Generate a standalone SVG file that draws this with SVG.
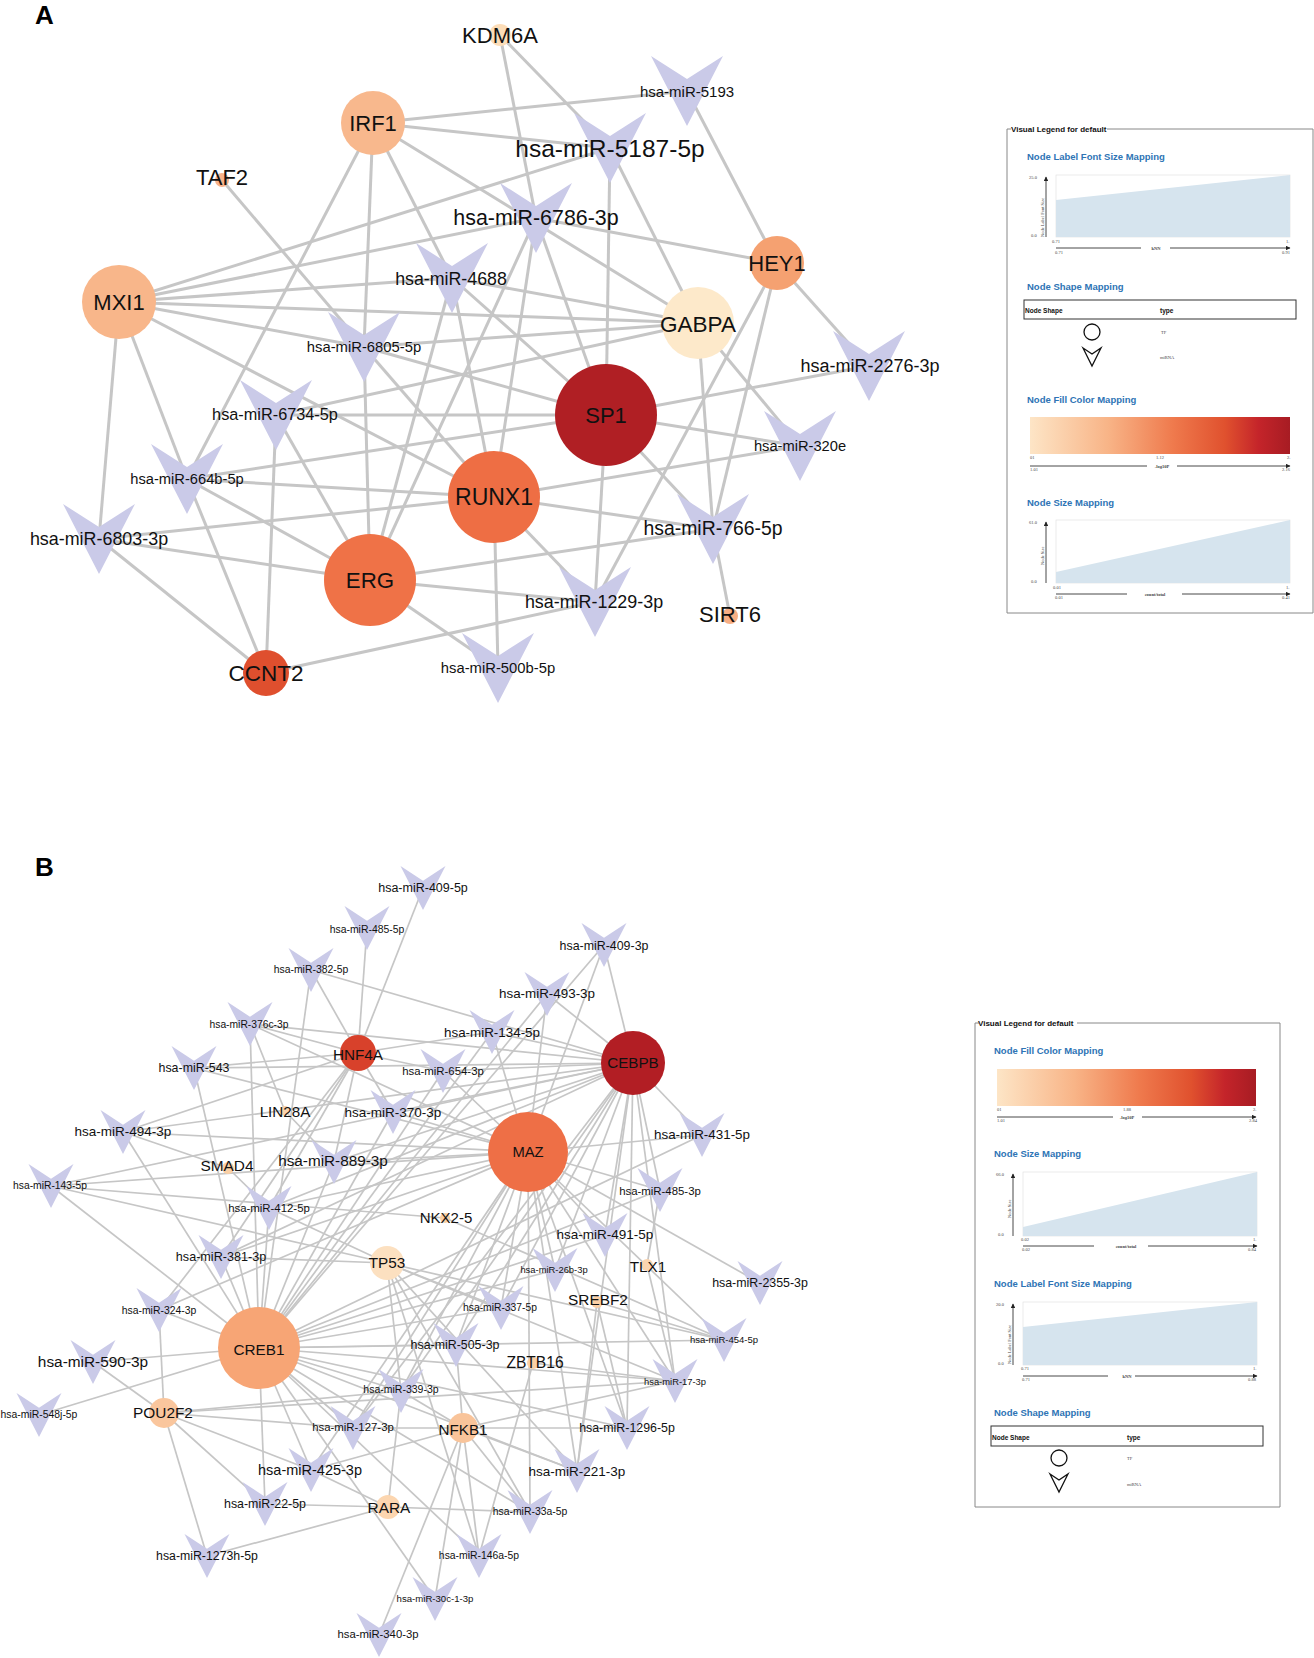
<svg xmlns="http://www.w3.org/2000/svg" xmlns:xlink="http://www.w3.org/1999/xlink" width="1314" height="1658" viewBox="0 0 1314 1658">
<style>
.ea path{stroke:#C6C6C6;stroke-width:3;fill:none}
.eb path{stroke:#C6C6C6;stroke-width:1.7;fill:none}
.mi{fill:#CACAE8}
text{font-family:"Liberation Sans",Arial,Helvetica,sans-serif;fill:#111}
.c{text-anchor:middle}
.pl{font-weight:bold;font-size:26px;fill:#000}
.lt{font-weight:bold;font-size:8px;fill:#111}
.lh{font-weight:bold;font-size:9.5px;fill:#2E74B5}
.tiny{font-family:"Liberation Serif","Times New Roman",serif;font-size:4.5px;fill:#444}
.ax{stroke:#333;stroke-width:0.9;fill:none}
.chart{fill:#fff;stroke:#ddd;stroke-width:0.6}
.area{fill:#D6E4EE}
.box{fill:none;stroke:#888;stroke-width:1}
</style>
<defs>
<polygon id="vA" points="-36,-35 0,-12 36,-35 0,35"/>
<polygon id="vB" points="-22.5,-22 0,-7.3 22.5,-22 0,22"/>
<linearGradient id="heat" x1="0" y1="0" x2="1" y2="0">
<stop offset="0" stop-color="#FDE5C6"/>
<stop offset="0.3" stop-color="#F8B487"/>
<stop offset="0.55" stop-color="#EF7A4D"/>
<stop offset="0.75" stop-color="#E0512E"/>
<stop offset="0.88" stop-color="#C4242A"/>
<stop offset="1" stop-color="#A71C23"/>
</linearGradient>
<marker id="arr" viewBox="0 0 10 10" refX="9" refY="5" markerWidth="6" markerHeight="5" orient="auto"><path d="M0,0 L10,5 L0,10 z" fill="#222"/></marker>
</defs>
<rect width="1314" height="1658" fill="#fff"/>
<text class="pl" x="35" y="24">A</text>
<text class="pl" x="35" y="876">B</text>

<g id="edges-A" class="ea">
<path d="M500,35L536,218"/><path d="M500,35L610,148"/>
<path d="M373,123L687,91"/><path d="M373,123L610,148"/><path d="M373,123L698,323"/><path d="M373,123L452,278"/><path d="M373,123L364,347"/><path d="M373,123L187,479"/>
<path d="M222,180L364,347"/>
<path d="M119,302L610,148"/><path d="M119,302L536,218"/><path d="M119,302L452,278"/><path d="M119,302L698,323"/><path d="M119,302L364,347"/><path d="M119,302L187,479"/><path d="M119,302L99,539"/><path d="M119,302L494,497"/>
<path d="M777,263L687,91"/><path d="M777,263L536,218"/><path d="M777,263L869,366"/><path d="M777,263L713,529"/><path d="M777,263L595,602"/>
<path d="M698,323L610,148"/><path d="M698,323L452,278"/><path d="M698,323L364,347"/><path d="M698,323L276,415"/><path d="M698,323L800,446"/><path d="M698,323L713,529"/>
<path d="M606,415L610,148"/><path d="M606,415L536,218"/><path d="M606,415L452,278"/><path d="M606,415L276,415"/><path d="M606,415L187,479"/><path d="M606,415L869,366"/><path d="M606,415L800,446"/><path d="M606,415L713,529"/><path d="M606,415L595,602"/><path d="M606,415L364,347"/>
<path d="M494,497L536,218"/><path d="M494,497L452,278"/><path d="M494,497L364,347"/><path d="M494,497L187,479"/><path d="M494,497L99,539"/><path d="M494,497L800,446"/><path d="M494,497L713,529"/><path d="M494,497L595,602"/><path d="M494,497L498,668"/>
<path d="M370,580L536,218"/><path d="M370,580L452,278"/><path d="M370,580L364,347"/><path d="M370,580L276,415"/><path d="M370,580L187,479"/><path d="M370,580L99,539"/><path d="M370,580L713,529"/><path d="M370,580L595,602"/><path d="M370,580L498,668"/>
<path d="M266,673L99,539"/><path d="M266,673L187,479"/><path d="M266,673L276,415"/><path d="M266,673L595,602"/>
<path d="M730,616L713,529"/>
</g>

<g id="nodes-A">
<g id="n-hsa-miR-5193"><use xlink:href="#vA" class="mi" x="687" y="91"/><text class="c" x="687" y="97" font-size="15">hsa-miR-5193</text></g>
<g id="n-hsa-miR-5187-5p"><use xlink:href="#vA" class="mi" x="610" y="148"/><text class="c" x="610" y="157" font-size="24.5">hsa-miR-5187-5p</text></g>
<g id="n-hsa-miR-6786-3p"><use xlink:href="#vA" class="mi" x="536" y="218"/><text class="c" x="536" y="225" font-size="21.4">hsa-miR-6786-3p</text></g>
<g id="n-hsa-miR-4688"><use xlink:href="#vA" class="mi" x="452" y="278"/><text class="c" x="451" y="285" font-size="17.8">hsa-miR-4688</text></g>
<g id="n-hsa-miR-6805-5p"><use xlink:href="#vA" class="mi" x="364" y="347"/><text class="c" x="364" y="352" font-size="14.8">hsa-miR-6805-5p</text></g>
<g id="n-hsa-miR-2276-3p"><use xlink:href="#vA" class="mi" x="869" y="366"/><text class="c" x="870" y="372" font-size="18">hsa-miR-2276-3p</text></g>
<g id="n-hsa-miR-6734-5p"><use xlink:href="#vA" class="mi" x="276" y="415"/><text class="c" x="275" y="420" font-size="16.3">hsa-miR-6734-5p</text></g>
<g id="n-hsa-miR-320e"><use xlink:href="#vA" class="mi" x="800" y="446"/><text class="c" x="800" y="451" font-size="14.7">hsa-miR-320e</text></g>
<g id="n-hsa-miR-664b-5p"><use xlink:href="#vA" class="mi" x="187" y="479"/><text class="c" x="187" y="484" font-size="14.7">hsa-miR-664b-5p</text></g>
<g id="n-hsa-miR-6803-3p"><use xlink:href="#vA" class="mi" x="99" y="539"/><text class="c" x="99" y="545" font-size="17.9">hsa-miR-6803-3p</text></g>
<g id="n-hsa-miR-766-5p"><use xlink:href="#vA" class="mi" x="713" y="529"/><text class="c" x="713" y="535" font-size="19.4">hsa-miR-766-5p</text></g>
<g id="n-hsa-miR-1229-3p"><use xlink:href="#vA" class="mi" x="595" y="602"/><text class="c" x="594" y="608" font-size="17.9">hsa-miR-1229-3p</text></g>
<g id="n-hsa-miR-500b-5p"><use xlink:href="#vA" class="mi" x="498" y="668"/><text class="c" x="498" y="673" font-size="14.8">hsa-miR-500b-5p</text></g>
<g id="n-KDM6A"><circle cx="500" cy="35" r="11" fill="#FCDDB8"/><text class="c" x="500" y="43" font-size="22">KDM6A</text></g>
<g id="n-IRF1"><circle cx="373" cy="123" r="32" fill="#F8B88D"/><text class="c" x="373" y="131" font-size="22">IRF1</text></g>
<g id="n-TAF2"><circle cx="222" cy="180" r="7" fill="#F7B28A"/><text class="c" x="222" y="185" font-size="22">TAF2</text></g>
<g id="n-MXI1"><circle cx="119" cy="302" r="37" fill="#F8B68A"/><text class="c" x="119" y="310" font-size="22">MXI1</text></g>
<g id="n-HEY1"><circle cx="777" cy="263" r="27" fill="#F5A171"/><text class="c" x="777" y="271" font-size="22">HEY1</text></g>
<g id="n-GABPA"><circle cx="698" cy="323" r="36" fill="#FDE9CA"/><text class="c" x="698" y="332" font-size="22.5">GABPA</text></g>
<g id="n-SP1"><circle cx="606" cy="415" r="51" fill="#B01F24"/><text class="c" x="606" y="423" font-size="22">SP1</text></g>
<g id="n-RUNX1"><circle cx="494" cy="497" r="46" fill="#EE6E44"/><text class="c" x="494" y="505" font-size="23">RUNX1</text></g>
<g id="n-ERG"><circle cx="370" cy="580" r="46" fill="#EF7247"/><text class="c" x="370" y="588" font-size="22.3">ERG</text></g>
<g id="n-CCNT2"><circle cx="266" cy="673" r="23" fill="#DF4F2E"/><text class="c" x="266" y="681" font-size="22.5">CCNT2</text></g>
<g id="n-SIRT6"><circle cx="730" cy="616" r="8" fill="#F7AE83"/><text class="c" x="730" y="622" font-size="22">SIRT6</text></g>
</g>

<g id="legend-A">
<path class="box" d="M1011,129H1007V613H1313V129H1107"/>
<text class="lt" x="1011" y="132">Visual Legend for default</text>
<text class="lh" x="1027" y="160">Node Label Font Size Mapping</text>
<rect class="chart" x="1056" y="175" width="234" height="62"/>
<polygon class="area" points="1056,200 1290,175 1290,237 1056,237"/>
<path class="ax" d="M1046,237V177" marker-end="url(#arr)"/>
<text class="tiny" x="1029" y="179">25.0</text><text class="tiny" x="1031" y="237">0.0</text>
<text class="tiny" transform="translate(1044,237) rotate(-90)">Node Label Font Size</text>
<text class="tiny" x="1052" y="243">0.71</text><text class="tiny" x="1286" y="243">1.</text>
<path class="ax" d="M1056,248H1141M1170,248H1290" marker-end="url(#arr)"/>
<text class="tiny c" x="1156" y="250" font-weight="bold">kNN</text>
<text class="tiny" x="1055" y="254">0.71</text><text class="tiny" x="1282" y="254">0.91</text>
<text class="lh" x="1027" y="290">Node Shape Mapping</text>
<rect x="1024" y="300" width="272" height="19" fill="none" stroke="#333" stroke-width="1"/>
<text x="1025" y="313" font-size="6.5" font-weight="bold">Node Shape</text>
<text x="1160" y="313" font-size="6.5" font-weight="bold">type</text>
<circle cx="1092" cy="332" r="8" fill="none" stroke="#111" stroke-width="1.3"/>
<text class="tiny" x="1161" y="334">TF</text>
<polygon points="1083,348 1092,354 1101,348 1092,366" fill="none" stroke="#111" stroke-width="1.3"/>
<text class="tiny" x="1160" y="359">miRNA</text>
<text class="lh" x="1027" y="403">Node Fill Color Mapping</text>
<rect x="1030" y="417" width="260" height="37" fill="url(#heat)"/>
<text class="tiny" x="1030" y="459">01</text><text class="tiny" x="1156" y="459">1.12</text><text class="tiny" x="1287" y="459">2.</text>
<path class="ax" d="M1030,466H1147M1177,466H1290" marker-end="url(#arr)"/>
<text class="tiny c" x="1162" y="468" font-weight="bold">-log10P</text>
<text class="tiny" x="1030" y="471">1.01</text><text class="tiny" x="1282" y="471">2.16</text>
<text class="lh" x="1027" y="506">Node Size Mapping</text>
<rect class="chart" x="1056" y="520" width="234" height="63"/>
<polygon class="area" points="1056,572 1290,520 1290,583 1056,583"/>
<path class="ax" d="M1046,583V522" marker-end="url(#arr)"/>
<text class="tiny" x="1029" y="524">61.0</text><text class="tiny" x="1031" y="583">0.0</text>
<text class="tiny" transform="translate(1044,565) rotate(-90)">Node Size</text>
<text class="tiny" x="1053" y="589">0.01</text><text class="tiny" x="1286" y="589">1.</text>
<path class="ax" d="M1056,594H1127M1182,594H1290" marker-end="url(#arr)"/>
<text class="tiny c" x="1155" y="596" font-weight="bold">count/total</text>
<text class="tiny" x="1055" y="599">0.01</text><text class="tiny" x="1282" y="599">0.41</text>
</g>

<g id="edges-B" class="eb">
<path d="M633,1063L311,970"/><path d="M633,1063L250,1024"/><path d="M633,1063L194,1068"/><path d="M633,1063L123,1132"/><path d="M633,1063L51,1186"/><path d="M633,1063L604,945"/><path d="M633,1063L547,994"/><path d="M633,1063L492,1032"/><path d="M633,1063L443,1071"/><path d="M633,1063L393,1112"/><path d="M633,1063L334,1162"/><path d="M633,1063L269,1208"/><path d="M633,1063L221,1257"/><path d="M633,1063L702,1135"/><path d="M633,1063L660,1190"/><path d="M633,1063L605,1235"/><path d="M633,1063L555,1270"/><path d="M633,1063L501,1308"/><path d="M633,1063L456,1345"/><path d="M633,1063L401,1391"/><path d="M633,1063L353,1428"/><path d="M633,1063L627,1428"/><path d="M633,1063L675,1381"/><path d="M633,1063L577,1471"/>
<path d="M528,1152L250,1024"/><path d="M528,1152L194,1068"/><path d="M528,1152L123,1132"/><path d="M528,1152L51,1186"/><path d="M528,1152L604,945"/><path d="M528,1152L547,994"/><path d="M528,1152L492,1032"/><path d="M528,1152L443,1071"/><path d="M528,1152L393,1112"/><path d="M528,1152L334,1162"/><path d="M528,1152L269,1208"/><path d="M528,1152L221,1257"/><path d="M528,1152L702,1135"/><path d="M528,1152L660,1190"/><path d="M528,1152L605,1235"/><path d="M528,1152L555,1270"/><path d="M528,1152L760,1283"/><path d="M528,1152L501,1308"/><path d="M528,1152L456,1345"/><path d="M528,1152L675,1381"/><path d="M528,1152L724,1340"/><path d="M528,1152L401,1391"/><path d="M528,1152L353,1428"/><path d="M528,1152L627,1428"/><path d="M528,1152L577,1471"/><path d="M528,1152L530,1512"/><path d="M528,1152L159,1310"/><path d="M528,1152L311,1470"/>
<path d="M259,1348L311,970"/><path d="M259,1348L250,1024"/><path d="M259,1348L194,1068"/><path d="M259,1348L123,1132"/><path d="M259,1348L51,1186"/><path d="M259,1348L604,945"/><path d="M259,1348L547,994"/><path d="M259,1348L492,1032"/><path d="M259,1348L443,1071"/><path d="M259,1348L393,1112"/><path d="M259,1348L334,1162"/><path d="M259,1348L269,1208"/><path d="M259,1348L221,1257"/><path d="M259,1348L159,1310"/><path d="M259,1348L93,1362"/><path d="M259,1348L39,1415"/><path d="M259,1348L702,1135"/><path d="M259,1348L660,1190"/><path d="M259,1348L605,1235"/><path d="M259,1348L555,1270"/><path d="M259,1348L501,1308"/><path d="M259,1348L456,1345"/><path d="M259,1348L675,1381"/><path d="M259,1348L724,1340"/><path d="M259,1348L401,1391"/><path d="M259,1348L353,1428"/><path d="M259,1348L311,1470"/><path d="M259,1348L265,1504"/><path d="M259,1348L530,1512"/><path d="M259,1348L479,1556"/><path d="M259,1348L627,1428"/><path d="M259,1348L435,1599"/><path d="M259,1348L577,1471"/>
<path d="M358,1053L423,888"/><path d="M358,1053L367,928"/><path d="M358,1053L311,970"/><path d="M358,1053L250,1024"/><path d="M358,1053L194,1068"/><path d="M358,1053L492,1032"/><path d="M358,1053L443,1071"/><path d="M358,1053L393,1112"/><path d="M358,1053L123,1132"/><path d="M358,1053L334,1162"/><path d="M358,1053L269,1208"/><path d="M358,1053L221,1257"/><path d="M358,1053L159,1310"/>
<path d="M387,1263L221,1257"/><path d="M387,1263L269,1208"/><path d="M387,1263L501,1308"/><path d="M387,1263L724,1340"/><path d="M387,1263L675,1381"/><path d="M387,1263L530,1512"/><path d="M387,1263L479,1556"/><path d="M387,1263L401,1391"/><path d="M387,1263L577,1471"/><path d="M387,1263L51,1186"/>
<path d="M228,1168L123,1132"/><path d="M228,1168L269,1208"/>
<path d="M285,1111L250,1024"/><path d="M285,1111L334,1162"/>
<path d="M445,1218L51,1186"/><path d="M445,1218L724,1340"/>
<path d="M647,1265L675,1381"/><path d="M647,1265L660,1190"/>
<path d="M597,1302L724,1340"/><path d="M597,1302L627,1428"/><path d="M597,1302L577,1471"/>
<path d="M533,1363L479,1556"/><path d="M533,1363L675,1381"/>
<path d="M164,1413L159,1310"/><path d="M164,1413L93,1362"/><path d="M164,1413L265,1504"/><path d="M164,1413L207,1556"/><path d="M164,1413L353,1428"/><path d="M164,1413L401,1391"/><path d="M164,1413L675,1381"/><path d="M164,1413L311,1470"/>
<path d="M463,1428L401,1391"/><path d="M463,1428L353,1428"/><path d="M463,1428L627,1428"/><path d="M463,1428L675,1381"/><path d="M463,1428L530,1512"/><path d="M463,1428L479,1556"/><path d="M463,1428L435,1599"/><path d="M463,1428L379,1635"/><path d="M463,1428L311,1470"/><path d="M463,1428L456,1345"/><path d="M463,1428L577,1471"/>
<path d="M388,1507L265,1504"/><path d="M388,1507L207,1556"/><path d="M388,1507L530,1512"/><path d="M388,1507L401,1391"/><path d="M388,1507L311,1470"/>
</g>

<g id="nodes-B">
<g id="n-hsa-miR-409-5p"><use xlink:href="#vB" class="mi" x="423" y="888"/><text class="c" x="423" y="892" font-size="12.5">hsa-miR-409-5p</text></g>
<g id="n-hsa-miR-485-5p"><use xlink:href="#vB" class="mi" x="367" y="928"/><text class="c" x="367" y="933" font-size="10.4">hsa-miR-485-5p</text></g>
<g id="n-hsa-miR-409-3p"><use xlink:href="#vB" class="mi" x="604" y="945"/><text class="c" x="604" y="950" font-size="12.4">hsa-miR-409-3p</text></g>
<g id="n-hsa-miR-382-5p"><use xlink:href="#vB" class="mi" x="311" y="970"/><text class="c" x="311" y="973" font-size="10.4">hsa-miR-382-5p</text></g>
<g id="n-hsa-miR-493-3p"><use xlink:href="#vB" class="mi" x="547" y="994"/><text class="c" x="547" y="998" font-size="13.4">hsa-miR-493-3p</text></g>
<g id="n-hsa-miR-376c-3p"><use xlink:href="#vB" class="mi" x="250" y="1024"/><text class="c" x="249" y="1028" font-size="10.3">hsa-miR-376c-3p</text></g>
<g id="n-hsa-miR-134-5p"><use xlink:href="#vB" class="mi" x="492" y="1032"/><text class="c" x="492" y="1037" font-size="13.4">hsa-miR-134-5p</text></g>
<g id="n-hsa-miR-543"><use xlink:href="#vB" class="mi" x="194" y="1068"/><text class="c" x="194" y="1072" font-size="12.4">hsa-miR-543</text></g>
<g id="n-hsa-miR-654-3p"><use xlink:href="#vB" class="mi" x="443" y="1071"/><text class="c" x="443" y="1075" font-size="11.4">hsa-miR-654-3p</text></g>
<g id="n-hsa-miR-370-3p"><use xlink:href="#vB" class="mi" x="393" y="1112"/><text class="c" x="393" y="1117" font-size="13.5">hsa-miR-370-3p</text></g>
<g id="n-hsa-miR-494-3p"><use xlink:href="#vB" class="mi" x="123" y="1132"/><text class="c" x="123" y="1136" font-size="13.5">hsa-miR-494-3p</text></g>
<g id="n-hsa-miR-431-5p"><use xlink:href="#vB" class="mi" x="702" y="1135"/><text class="c" x="702" y="1139" font-size="13.4">hsa-miR-431-5p</text></g>
<g id="n-hsa-miR-889-3p"><use xlink:href="#vB" class="mi" x="334" y="1162"/><text class="c" x="333" y="1166" font-size="15.3">hsa-miR-889-3p</text></g>
<g id="n-hsa-miR-143-5p"><use xlink:href="#vB" class="mi" x="51" y="1186"/><text class="c" x="50" y="1189" font-size="10.3">hsa-miR-143-5p</text></g>
<g id="n-hsa-miR-485-3p"><use xlink:href="#vB" class="mi" x="660" y="1190"/><text class="c" x="660" y="1195" font-size="11.4">hsa-miR-485-3p</text></g>
<g id="n-hsa-miR-412-5p"><use xlink:href="#vB" class="mi" x="269" y="1208"/><text class="c" x="269" y="1212" font-size="11.4">hsa-miR-412-5p</text></g>
<g id="n-hsa-miR-491-5p"><use xlink:href="#vB" class="mi" x="605" y="1235"/><text class="c" x="605" y="1239" font-size="13.5">hsa-miR-491-5p</text></g>
<g id="n-hsa-miR-381-3p"><use xlink:href="#vB" class="mi" x="221" y="1257"/><text class="c" x="221" y="1261" font-size="12.6">hsa-miR-381-3p</text></g>
<g id="n-hsa-miR-26b-3p"><use xlink:href="#vB" class="mi" x="555" y="1270"/><text class="c" x="554" y="1273" font-size="9.4">hsa-miR-26b-3p</text></g>
<g id="n-hsa-miR-2355-3p"><use xlink:href="#vB" class="mi" x="760" y="1283"/><text class="c" x="760" y="1287" font-size="12.4">hsa-miR-2355-3p</text></g>
<g id="n-hsa-miR-337-5p"><use xlink:href="#vB" class="mi" x="501" y="1308"/><text class="c" x="500" y="1311" font-size="10.3">hsa-miR-337-5p</text></g>
<g id="n-hsa-miR-324-3p"><use xlink:href="#vB" class="mi" x="159" y="1310"/><text class="c" x="159" y="1314" font-size="10.4">hsa-miR-324-3p</text></g>
<g id="n-hsa-miR-454-5p"><use xlink:href="#vB" class="mi" x="724" y="1340"/><text class="c" x="724" y="1343" font-size="9.5">hsa-miR-454-5p</text></g>
<g id="n-hsa-miR-505-3p"><use xlink:href="#vB" class="mi" x="456" y="1345"/><text class="c" x="455" y="1349" font-size="12.4">hsa-miR-505-3p</text></g>
<g id="n-hsa-miR-590-3p"><use xlink:href="#vB" class="mi" x="93" y="1362"/><text class="c" x="93" y="1367" font-size="15.4">hsa-miR-590-3p</text></g>
<g id="n-hsa-miR-17-3p"><use xlink:href="#vB" class="mi" x="675" y="1381"/><text class="c" x="675" y="1385" font-size="9.4">hsa-miR-17-3p</text></g>
<g id="n-hsa-miR-339-3p"><use xlink:href="#vB" class="mi" x="401" y="1391"/><text class="c" x="401" y="1393" font-size="10.5">hsa-miR-339-3p</text></g>
<g id="n-hsa-miR-548j-5p"><use xlink:href="#vB" class="mi" x="39" y="1415"/><text class="c" x="39" y="1418" font-size="10.4">hsa-miR-548j-5p</text></g>
<g id="n-hsa-miR-127-3p"><use xlink:href="#vB" class="mi" x="353" y="1428"/><text class="c" x="353" y="1431" font-size="11.4">hsa-miR-127-3p</text></g>
<g id="n-hsa-miR-1296-5p"><use xlink:href="#vB" class="mi" x="627" y="1428"/><text class="c" x="627" y="1432" font-size="12.4">hsa-miR-1296-5p</text></g>
<g id="n-hsa-miR-425-3p"><use xlink:href="#vB" class="mi" x="311" y="1470"/><text class="c" x="310" y="1475" font-size="14.5">hsa-miR-425-3p</text></g>
<g id="n-hsa-miR-221-3p"><use xlink:href="#vB" class="mi" x="577" y="1471"/><text class="c" x="577" y="1476" font-size="13.5">hsa-miR-221-3p</text></g>
<g id="n-hsa-miR-22-5p"><use xlink:href="#vB" class="mi" x="265" y="1504"/><text class="c" x="265" y="1508" font-size="12.4">hsa-miR-22-5p</text></g>
<g id="n-hsa-miR-33a-5p"><use xlink:href="#vB" class="mi" x="530" y="1512"/><text class="c" x="530" y="1515" font-size="10.4">hsa-miR-33a-5p</text></g>
<g id="n-hsa-miR-146a-5p"><use xlink:href="#vB" class="mi" x="479" y="1556"/><text class="c" x="479" y="1559" font-size="10.4">hsa-miR-146a-5p</text></g>
<g id="n-hsa-miR-1273h-5p"><use xlink:href="#vB" class="mi" x="207" y="1556"/><text class="c" x="207" y="1560" font-size="12.3">hsa-miR-1273h-5p</text></g>
<g id="n-hsa-miR-30c-1-3p"><use xlink:href="#vB" class="mi" x="435" y="1599"/><text class="c" x="435" y="1602" font-size="9.6">hsa-miR-30c-1-3p</text></g>
<g id="n-hsa-miR-340-3p"><use xlink:href="#vB" class="mi" x="379" y="1635"/><text class="c" x="378" y="1638" font-size="11.3">hsa-miR-340-3p</text></g>
<g id="n-HNF4A"><circle cx="358" cy="1053" r="18" fill="#D8412B"/><text class="c" x="358" y="1060" font-size="15.3">HNF4A</text></g>
<g id="n-CEBPB"><circle cx="633" cy="1063" r="32" fill="#B21E24"/><text class="c" x="633" y="1068" font-size="15.2">CEBPB</text></g>
<g id="n-LIN28A"><circle cx="285" cy="1111" r="5" fill="#FBD3AC"/><text class="c" x="285" y="1117" font-size="15.2">LIN28A</text></g>
<g id="n-MAZ"><circle cx="528" cy="1152" r="40" fill="#EE6F46"/><text class="c" x="528" y="1157" font-size="14.8">MAZ</text></g>
<g id="n-SMAD4"><circle cx="228" cy="1168" r="6" fill="#FBD0A5"/><text class="c" x="227" y="1171" font-size="15.4">SMAD4</text></g>
<g id="n-NKX2-5"><circle cx="445" cy="1218" r="5" fill="#FBD0A5"/><text class="c" x="446" y="1223" font-size="15">NKX2-5</text></g>
<g id="n-TP53"><circle cx="387" cy="1263" r="17" fill="#FCE0C0"/><text class="c" x="387" y="1268" font-size="15.3">TP53</text></g>
<g id="n-TLX1"><circle cx="647" cy="1265" r="6" fill="#FBD5B0"/><text class="c" x="648" y="1272" font-size="15.3">TLX1</text></g>
<g id="n-SREBF2"><circle cx="597" cy="1302" r="6" fill="#FBD0A5"/><text class="c" x="598" y="1305" font-size="15.4">SREBF2</text></g>
<g id="n-CREB1"><circle cx="259" cy="1348" r="41" fill="#F7A575"/><text class="c" x="259" y="1355" font-size="15.3">CREB1</text></g>
<g id="n-ZBTB16"><circle cx="533" cy="1363" r="6" fill="#FBD0A5"/><text class="c" x="535" y="1368" font-size="15.6">ZBTB16</text></g>
<g id="n-POU2F2"><circle cx="164" cy="1413" r="15" fill="#FAC69D"/><text class="c" x="163" y="1418" font-size="15.4">POU2F2</text></g>
<g id="n-NFKB1"><circle cx="463" cy="1428" r="15" fill="#F9C49A"/><text class="c" x="463" y="1435" font-size="15.2">NFKB1</text></g>
<g id="n-RARA"><circle cx="388" cy="1507" r="12" fill="#FCD6B0"/><text class="c" x="389" y="1513" font-size="15.4">RARA</text></g>
</g>

<g id="legend-B">
<path class="box" d="M979,1023H975V1507H1280V1023H1077"/>
<text class="lt" x="978" y="1026">Visual Legend for default</text>
<text class="lh" x="994" y="1054">Node Fill Color Mapping</text>
<rect x="997" y="1069" width="259" height="37" fill="url(#heat)"/>
<text class="tiny" x="997" y="1111">01</text><text class="tiny" x="1123" y="1111">1.88</text><text class="tiny" x="1253" y="1111">2.</text>
<path class="ax" d="M997,1117H1113M1142,1117H1256" marker-end="url(#arr)"/>
<text class="tiny c" x="1127" y="1119" font-weight="bold">-log10P</text>
<text class="tiny" x="997" y="1122">1.01</text><text class="tiny" x="1249" y="1122">2.84</text>
<text class="lh" x="994" y="1157">Node Size Mapping</text>
<rect class="chart" x="1023" y="1172" width="234" height="64"/>
<polygon class="area" points="1023,1227 1257,1172 1257,1236 1023,1236"/>
<path class="ax" d="M1013,1236V1174" marker-end="url(#arr)"/>
<text class="tiny" x="996" y="1176">66.0</text><text class="tiny" x="998" y="1236">0.0</text>
<text class="tiny" transform="translate(1011,1218) rotate(-90)">Node Size</text>
<text class="tiny" x="1021" y="1241">0.02</text><text class="tiny" x="1253" y="1241">1.</text>
<path class="ax" d="M1023,1246H1094M1148,1246H1257" marker-end="url(#arr)"/>
<text class="tiny c" x="1126" y="1248" font-weight="bold">count/total</text>
<text class="tiny" x="1022" y="1251">0.02</text><text class="tiny" x="1248" y="1251">0.84</text>
<text class="lh" x="994" y="1287">Node Label Font Size Mapping</text>
<rect class="chart" x="1023" y="1302" width="234" height="63"/>
<polygon class="area" points="1023,1327 1257,1302 1257,1365 1023,1365"/>
<path class="ax" d="M1013,1365V1304" marker-end="url(#arr)"/>
<text class="tiny" x="996" y="1306">20.0</text><text class="tiny" x="998" y="1365">0.0</text>
<text class="tiny" transform="translate(1011,1364) rotate(-90)">Node Label Font Size</text>
<text class="tiny" x="1021" y="1370">0.71</text><text class="tiny" x="1253" y="1370">1.</text>
<path class="ax" d="M1023,1376H1108M1135,1376H1257" marker-end="url(#arr)"/>
<text class="tiny c" x="1127" y="1378" font-weight="bold">kNN</text>
<text class="tiny" x="1022" y="1381">0.71</text><text class="tiny" x="1248" y="1381">0.88</text>
<text class="lh" x="994" y="1416">Node Shape Mapping</text>
<rect x="991" y="1426" width="272" height="20" fill="none" stroke="#333" stroke-width="1"/>
<text x="992" y="1440" font-size="6.5" font-weight="bold">Node Shape</text>
<text x="1127" y="1440" font-size="6.5" font-weight="bold">type</text>
<circle cx="1059" cy="1458" r="8" fill="none" stroke="#111" stroke-width="1.3"/>
<text class="tiny" x="1127" y="1460">TF</text>
<polygon points="1050,1474 1059,1480 1068,1474 1059,1492" fill="none" stroke="#111" stroke-width="1.3"/>
<text class="tiny" x="1127" y="1486">miRNA</text>
</g>
</svg>
